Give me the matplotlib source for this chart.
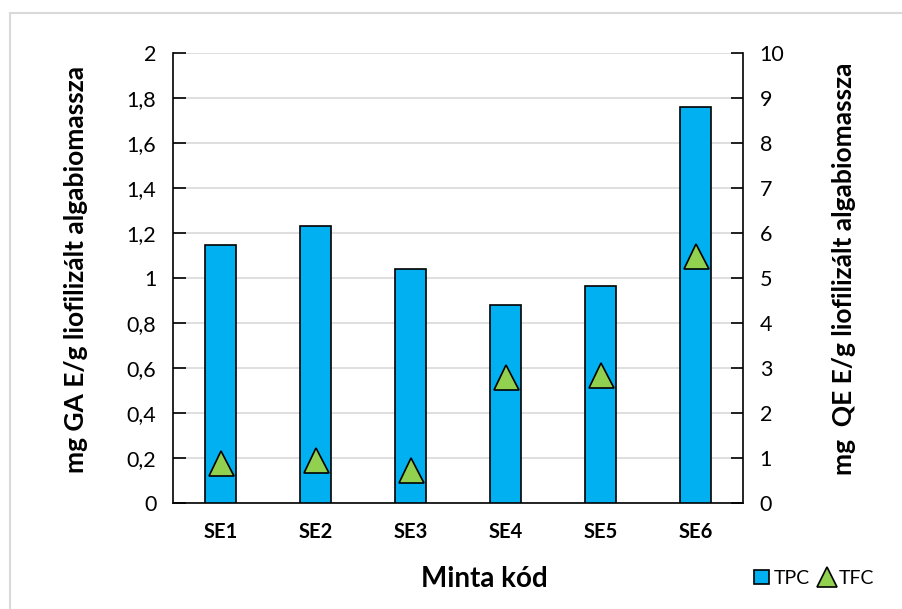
import numpy as np
import matplotlib.pyplot as plt
from matplotlib.patches import Patch, Rectangle
from matplotlib.lines import Line2D

plt.rcParams['font.family'] = ['Lato', 'DejaVu Sans']

samples = ["SE1", "SE2", "SE3", "SE4", "SE5", "SE6"]
tpc = [1.147, 1.231, 1.040, 0.880, 0.964, 1.760]   # mg GA E/g
tfc = [0.89, 0.95, 0.73, 2.80, 2.84, 5.49]         # mg QE E/g

left_ticks = [0, 0.2, 0.4, 0.6, 0.8, 1, 1.2, 1.4, 1.6, 1.8, 2]
left_labels = ["0", "0,2", "0,4", "0,6", "0,8", "1", "1,2", "1,4", "1,6", "1,8", "2"]
right_ticks = list(range(0, 11))

blue = "#00B0F0"
green = "#92D050"

fig = plt.figure(figsize=(9.02, 6.09), dpi=100)
W, H = 902, 609

# light chart-area frame
fig.patches.append(Rectangle((10 / W, -0.1), 1.2, (609 - 13) / H + 0.1,
                             transform=fig.transFigure, fill=False,
                             edgecolor="#D9D9D9", linewidth=1.5))

ax = fig.add_axes([173 / W, (609 - 503) / H, 570 / W, 450 / H])
x = np.arange(len(samples))

ax.bar(x, tpc, width=0.32, color=blue, edgecolor="black", linewidth=1.2, zorder=3)
ax.set_xlim(-0.5, len(samples) - 0.5)
ax.set_ylim(0, 2)
ax.set_yticks(left_ticks)
ax.set_yticklabels(left_labels)
ax.yaxis.grid(True, color="#D9D9D9", linewidth=1.2, zorder=0)
ax.set_axisbelow(True)
ax.set_xticks(x)
ax.set_xticklabels(samples, fontweight="bold")
ax.tick_params(axis="x", length=0, pad=14, labelsize=14.5)
ax.tick_params(axis="y", direction="in", length=9, width=1.2, labelsize=15.5, pad=12)
for s in ["left", "bottom"]:
    ax.spines[s].set_linewidth(1.2)
ax.spines["top"].set_visible(False)
ax.spines["right"].set_visible(False)

ax2 = ax.twinx()
ax2.plot(x, tfc, linestyle="none", marker="^", markersize=18,
         markerfacecolor=green, markeredgecolor="black", markeredgewidth=1.2, zorder=4)
ax2.set_ylim(0, 10)
ax2.set_yticks(right_ticks)
ax2.tick_params(axis="y", direction="in", length=9, width=1.2, labelsize=15.5, pad=12)
ax2.spines["right"].set_linewidth(1.2)
for s in ["top", "left", "bottom"]:
    ax2.spines[s].set_visible(False)

ax.set_ylabel("mg GA E/g liofilizált algabiomassza", fontsize=19, fontweight="bold")
ax.yaxis.set_label_coords((88 - 173) / 570, 0.52)
ax2.set_ylabel("mg  QE E/g liofilizált algabiomassza", fontsize=19, fontweight="bold")
ax2.yaxis.set_label_coords((832 - 173) / 570, 0.52)
ax.set_xlabel("Minta kód", fontsize=20, fontweight="bold")
ax.xaxis.set_label_coords((484 - 173) / 570, -(566 - 503) / 450)

handles = [
    Patch(facecolor=blue, edgecolor="black", linewidth=1.2),
    Line2D([], [], linestyle="none", marker="^", markersize=15,
           markerfacecolor=green, markeredgecolor="black", markeredgewidth=1.2),
]
fig.legend(handles, ["TPC", "TFC"], loc="center right", bbox_to_anchor=(884 / W, 1 - 578 / H),
           ncol=2, frameon=False, fontsize=14, handlelength=0.75, handleheight=0.75,
           handletextpad=0.25, columnspacing=0.5, borderpad=0)

fig.savefig("out.png", dpi=100)
plt.close(fig)
